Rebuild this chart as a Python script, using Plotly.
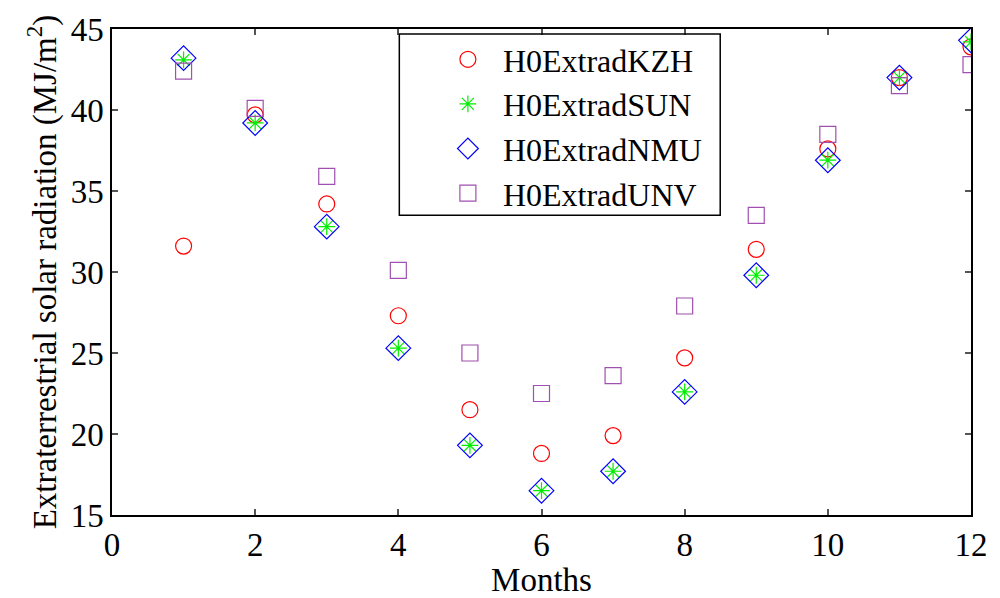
import plotly.graph_objects as go

months = [1, 2, 3, 4, 5, 6, 7, 8, 9, 10, 11, 12]
h0_kzh = [31.6, 39.7, 34.2, 27.3, 21.5, 18.8, 19.9, 24.7, 31.4, 37.6, 42.0, 43.9]
h0_sun = [43.1, 39.2, 32.8, 25.3, 19.3, 16.5, 17.7, 22.6, 29.8, 36.9, 42.0, 44.2]
h0_nmu = [43.2, 39.2, 32.8, 25.3, 19.3, 16.5, 17.7, 22.6, 29.8, 36.9, 42.0, 44.3]
h0_unv = [42.4, 40.1, 35.9, 30.1, 25.0, 22.5, 23.6, 27.9, 33.5, 38.5, 41.5, 42.8]

series = [
    ("H0ExtradKZH", h0_kzh, "circle-open", "#ff0000", 16),
    ("H0ExtradSUN", h0_sun, "asterisk-open", "#00ee00", 14),
    ("H0ExtradNMU", h0_nmu, "diamond-open", "#0000ff", 19),
    ("H0ExtradUNV", h0_unv, "square-open", "#a050b0", 16),
]

font = "Liberation Serif, Times New Roman, serif"
fs = 33

fig = go.Figure()
for name, vals, sym, col, sz in series:
    fig.add_trace(go.Scatter(
        x=months, y=vals, mode="markers", name=name,
        marker=dict(symbol=sym, size=sz, color=col, line=dict(color=col, width=1.2)),
    ))

fig.update_layout(
    width=1000, height=598,
    margin=dict(l=112, r=18, t=28, b=82),
    paper_bgcolor="white", plot_bgcolor="white",
    font=dict(family=font, size=fs, color="black"),
    showlegend=True,
    legend=dict(
        x=(437 - 112) / 870, y=(516 - 31) / 488, xanchor="left", yanchor="top",
        bgcolor="rgba(0,0,0,0)", borderwidth=0,
        font=dict(family=font, size=32), itemwidth=60, tracegroupgap=0,
    ),
    shapes=[dict(type="rect", xref="paper", yref="paper",
                 x0=(403 - 112) / 870, x1=(728 - 112) / 870,
                 y0=(516 - 215) / 488, y1=(516 - 33) / 488,
                 line=dict(color="black", width=1.5), fillcolor="rgba(0,0,0,0)")],
)

axis_common = dict(
    showgrid=False, zeroline=False, showline=True, linecolor="black", linewidth=1.5,
    mirror="ticks", ticks="inside", ticklen=6, tickcolor="#555555", tickwidth=1.5,
    tickfont=dict(family=font, size=fs),
)
fig.update_xaxes(range=[0, 12], tickvals=[0, 2, 4, 6, 8, 10, 12],
                 title=dict(text="Months", font=dict(family=font, size=fs), standoff=0),
                 **axis_common)
fig.update_yaxes(range=[15, 45], tickvals=[15, 20, 25, 30, 35, 40, 45],
                 title=dict(text="Extraterrestrial solar radiation (MJ/m<sup>2</sup>)",
                            font=dict(family=font, size=fs), standoff=4),
                 **axis_common)

fig.write_html("out.html")
